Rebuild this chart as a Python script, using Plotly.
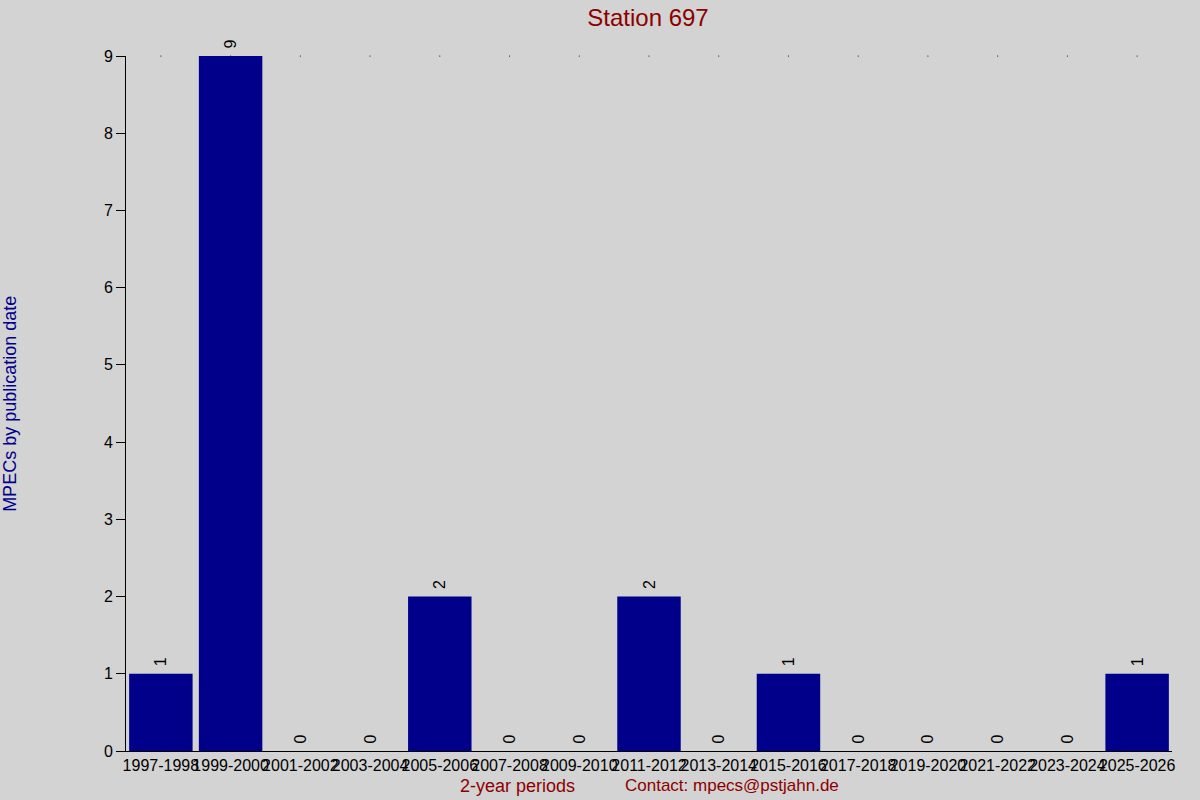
import plotly.graph_objects as go

periods = ["1997-1998", "1999-2000", "2001-2002", "2003-2004", "2005-2006",
           "2007-2008", "2009-2010", "2011-2012", "2013-2014", "2015-2016",
           "2017-2018", "2019-2020", "2021-2022", "2023-2024", "2025-2026"]
counts = [1, 9, 0, 0, 2, 0, 0, 2, 0, 1, 0, 0, 0, 0, 1]
y_ticks = [0, 1, 2, 3, 4, 5, 6, 7, 8, 9]

FONT = "Liberation Sans, Arial, sans-serif"

fig = go.Figure()
fig.add_trace(go.Bar(
    x=periods,
    y=counts,
    marker=dict(color="#00008B", line=dict(width=0)),
    # leading spaces keep the rotated label a few pixels off the bar top
    text=["\u00a0" + str(c) for c in counts],
    textposition="outside",
    textangle=-90,
    textfont=dict(family=FONT, size=16, color="black"),
    cliponaxis=False,
    showlegend=False,
))
# small dots along the top of the plot
fig.add_trace(go.Scatter(
    x=periods,
    y=[max(y_ticks)] * len(periods),
    mode="markers",
    marker=dict(color="black", size=1.2),
    hoverinfo="skip",
    showlegend=False,
    cliponaxis=False,
))

fig.update_layout(
    width=1200,
    height=800,
    paper_bgcolor="#D3D3D3",
    plot_bgcolor="#D3D3D3",
    margin=dict(l=126, r=28, t=56, b=49),
    bargap=0.09,
    font=dict(family=FONT, size=16, color="black"),
    title=dict(text="Station 697", x=0.54, xanchor="center", y=0.978, yanchor="middle",
               font=dict(family=FONT, size=24, color="#8B0000")),
    xaxis=dict(
        type="category",
        range=[-0.5, len(periods) - 0.5],
        showline=True, linecolor="black", linewidth=1,
        ticks="", showgrid=False, zeroline=False,
        tickfont=dict(size=16, color="black"),
        tickangle=0,
    ),
    yaxis=dict(
        range=[0, 9],
        tickvals=y_ticks,
        showline=True, linecolor="black", linewidth=1,
        ticks="outside", ticklen=9, tickcolor="black",
        showgrid=False, zeroline=False,
        tickfont=dict(size=16, color="black"),
    ),
    annotations=[
        dict(text="MPECs by publication date", xref="paper", yref="paper",
             x=-0.1115, y=0.5, xanchor="center", yanchor="middle", textangle=-90,
             showarrow=False, font=dict(family=FONT, size=18, color="#00008B")),
        dict(text="2-year periods", xref="paper", yref="paper",
             x=0.374, y=-0.05, xanchor="center", yanchor="middle",
             showarrow=False, font=dict(family=FONT, size=18, color="#8B0000")),
        dict(text="Contact: mpecs@pstjahn.de", xref="paper", yref="paper",
             x=0.579, y=-0.05, xanchor="center", yanchor="middle",
             showarrow=False, font=dict(family=FONT, size=17, color="#8B0000")),
    ],
)

fig.write_html("out.html", config={"displayModeBar": False},
               post_script="document.body.style.margin='0';")
